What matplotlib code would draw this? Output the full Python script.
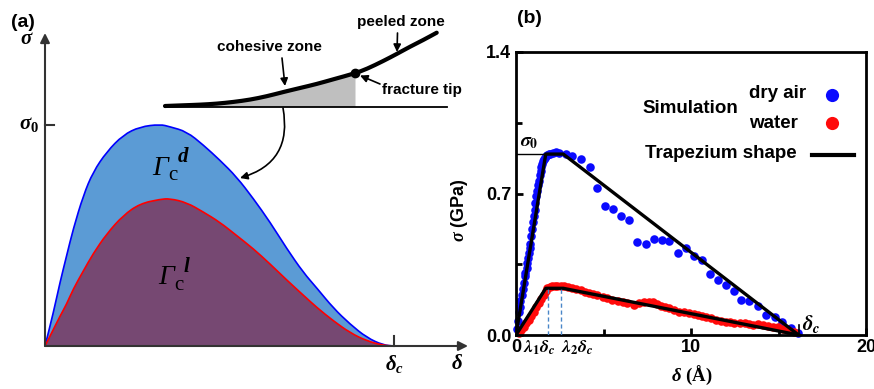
import matplotlib
matplotlib.use('Agg')
import matplotlib.pyplot as plt
from matplotlib.patches import FancyArrowPatch, PathPatch
from matplotlib.path import Path

plt.rcParams['font.family'] = 'Liberation Sans'
plt.rcParams['font.weight'] = 'bold'
plt.rcParams['mathtext.fontset'] = 'custom'
plt.rcParams['mathtext.it'] = 'Liberation Serif:italic:bold'
plt.rcParams['mathtext.rm'] = 'Liberation Serif:bold'
plt.rcParams['mathtext.bf'] = 'Liberation Serif:bold'

# ---- panel (a): schematic traction-separation curves (delta/delta_c, sigma/sigma_0)
sep = [0, 0.024, 0.043, 0.062, 0.081, 0.110, 0.138, 0.177, 0.224, 0.272, 0.330, 0.358, 0.406,
       0.454, 0.501, 0.549, 0.597, 0.645, 0.693, 0.740, 0.779, 0.826, 0.874, 0.922, 0.969, 1.0]
dry_curve = [0, 0.151, 0.288, 0.409, 0.530, 0.682, 0.788, 0.879, 0.955, 0.992, 1.003, 0.992, 0.970,
             0.909, 0.841, 0.765, 0.667, 0.560, 0.440, 0.333, 0.262, 0.172, 0.099, 0.038, 0.004, 0]
wet_curve = [0, 0.075, 0.135, 0.190, 0.258, 0.340, 0.418, 0.508, 0.591, 0.644, 0.664, 0.667, 0.649,
             0.606, 0.560, 0.500, 0.440, 0.371, 0.298, 0.230, 0.174, 0.114, 0.060, 0.023, 0.003, 0]

# peeling sketch (pixel coordinates of the inset drawing)
peel_x = [165, 183.3, 200, 216.7, 233.3, 250, 266.7, 283.3, 300, 316.7, 333.3, 355,
          366.7, 383.3, 396.7, 410, 423.3, 436.7]
peel_y = [106, 105.3, 104.7, 103.7, 102, 99.7, 96.3, 92, 88, 84, 79.3, 73.3,
          69, 61, 54, 46.7, 40, 32.7]

# ---- panel (b): simulation data
dry_x = [0.05, 0.10, 0.15, 0.20, 0.25, 0.32, 0.38, 0.44, 0.50, 0.54, 0.60, 0.63, 0.68, 0.73, 0.78,
         0.82, 0.87, 0.92, 0.97, 1.01, 1.06, 1.11, 1.16, 1.20, 1.25, 1.30, 1.35, 1.40, 1.45, 1.49,
         1.54, 1.59, 1.65, 1.72, 1.78, 1.87, 1.97, 2.10, 2.26, 2.45, 2.83, 3.21, 3.69, 4.23, 4.61,
         5.07, 5.56, 6.02, 6.48, 6.94, 7.40, 7.86, 8.32, 8.76, 9.24, 9.71, 10.15, 10.61, 11.07,
         11.53, 11.99, 12.45, 12.87, 13.33, 13.82, 14.30, 14.78, 15.22, 15.70, 16.12]
dry_y = [0.03, 0.07, 0.116, 0.14, 0.166, 0.20, 0.23, 0.257, 0.29, 0.307, 0.33, 0.357, 0.38, 0.406,
         0.43, 0.448, 0.49, 0.522, 0.56, 0.589, 0.62, 0.655, 0.69, 0.713, 0.74, 0.763, 0.79, 0.813,
         0.83, 0.846, 0.86, 0.871, 0.878, 0.887, 0.89, 0.893, 0.896, 0.90, 0.904, 0.90, 0.896,
         0.887, 0.871, 0.829, 0.725, 0.638, 0.625, 0.589, 0.569, 0.461, 0.448, 0.473, 0.469, 0.464,
         0.406, 0.431, 0.393, 0.373, 0.303, 0.274, 0.249, 0.216, 0.174, 0.166, 0.144, 0.100, 0.091,
         0.066, 0.033, 0.012]
wet_x = [0.15, 0.30, 0.44, 0.58, 0.72, 0.86, 1.00, 1.15, 1.30, 1.44, 1.58, 1.70, 1.78, 1.92, 2.07,
         2.20, 2.35, 2.55, 2.73, 2.95, 3.20, 3.45, 3.69, 3.93, 4.17, 4.40, 4.65, 4.95, 5.22, 5.50,
         5.80, 6.10, 6.37, 6.75, 7.05, 7.32, 7.60, 7.80, 8.05, 8.28, 8.50, 8.76, 9.05, 9.33, 9.60,
         9.90, 10.15, 10.38, 10.60, 10.86, 11.15, 11.43, 11.70, 12.01, 12.25, 12.48, 12.80, 13.06,
         13.30, 13.54, 13.80, 14.10, 14.40, 14.70, 14.97, 15.25, 15.55, 15.90]
wet_y = [0.008, 0.025, 0.041, 0.058, 0.075, 0.095, 0.116, 0.137, 0.158, 0.180, 0.200, 0.220, 0.232,
         0.238, 0.240, 0.243, 0.244, 0.242, 0.240, 0.236, 0.232, 0.228, 0.224, 0.214, 0.207, 0.203,
         0.199, 0.190, 0.182, 0.174, 0.166, 0.162, 0.158, 0.150, 0.158, 0.163, 0.165, 0.163, 0.152,
         0.144, 0.140, 0.133, 0.124, 0.116, 0.112, 0.108, 0.104, 0.100, 0.096, 0.091, 0.083, 0.075,
         0.071, 0.066, 0.062, 0.058, 0.058, 0.058, 0.054, 0.050, 0.052, 0.050, 0.046, 0.042, 0.038,
         0.032, 0.026, 0.015]
trap_x = [0, 1.70, 2.70, 16.15]
trap_dry = [0, 0.895, 0.895, 0]
trap_wet = [0, 0.231, 0.231, 0]
lam_x = [1.85, 2.57]


def smooth_path(xs, ys, close=False):
    # quadratic bezier through the midpoints of the read points
    pts = list(zip(xs, ys))
    verts = [pts[0], ((pts[0][0] + pts[1][0]) / 2, (pts[0][1] + pts[1][1]) / 2)]
    codes = [Path.MOVETO, Path.LINETO]
    for i in range(1, len(pts) - 1):
        mid = ((pts[i][0] + pts[i + 1][0]) / 2, (pts[i][1] + pts[i + 1][1]) / 2)
        verts += [pts[i], mid]
        codes += [Path.CURVE3, Path.CURVE3]
    verts.append(pts[-1])
    codes.append(Path.LINETO)
    if close:
        verts.append(pts[0])
        codes.append(Path.CLOSEPOLY)
    return Path(verts, codes)


fig = plt.figure(figsize=(8.74, 3.89), dpi=100)

# ================= panel (a)
axa = fig.add_axes([45 / 874, 43 / 389, 429 / 874, 318 / 389])
axa.set_xlim(0, 429 / 349)
axa.set_ylim(0, 318 / 221)
axa.axis('off')
axa.add_patch(PathPatch(smooth_path(sep, dry_curve, close=True), fc='#5B9BD5', ec='none'))
axa.add_patch(PathPatch(smooth_path(sep, wet_curve, close=True), fc='#764872', ec='none'))
axa.add_patch(PathPatch(smooth_path(sep, dry_curve), fc='none', ec='#0000FF', lw=1.2))
axa.add_patch(PathPatch(smooth_path(sep, wet_curve), fc='none', ec='#FF0000', lw=1.2))
axc = '#333333'
axa.annotate('', xy=(423 / 349, 0), xytext=(0, 0), annotation_clip=False,
             arrowprops=dict(arrowstyle='-|>', color=axc, lw=1.5, mutation_scale=14, shrinkA=0, shrinkB=0))
axa.annotate('', xy=(0, 313 / 221), xytext=(0, 0), annotation_clip=False,
             arrowprops=dict(arrowstyle='-|>', color=axc, lw=1.5, mutation_scale=14, shrinkA=0, shrinkB=0))
axa.plot([0, 0.025], [1, 1], color=axc, lw=1.5, clip_on=False)
axa.plot([1, 1], [0, 0.045], color=axc, lw=1.5, clip_on=False)
axa.text(-0.017, 1.0, r'$\sigma_0$', ha='right', va='center', fontsize=15)
axa.text(-0.052, 1.39, r'$\sigma$', ha='center', va='center', fontsize=15)
axa.text(1.0, -0.08, r'$\delta_c$', ha='center', va='center', fontsize=15)
axa.text(1.18, -0.08, r'$\delta$', ha='center', va='center', fontsize=15)

# ================= overlay for sketch and annotations (pixel space)
ov = fig.add_axes([0, 0, 1, 1])
ov.set_xlim(0, 874)
ov.set_ylim(389, 0)
ov.axis('off')
ov.patch.set_alpha(0)

ov.fill_between(peel_x[:12], peel_y[:12], 106.5, color='#BFBFBF', lw=0)
ov.plot([165, 447], [106.5, 106.5], color='black', lw=1.3)
ov.add_patch(PathPatch(smooth_path(peel_x, peel_y), fc='none', ec='black', lw=3, capstyle='round'))
ov.plot(355, 73.3, 'o', color='black', ms=6)


def arrow(p0, p1, rad=0.0):
    ov.add_patch(FancyArrowPatch(p0, p1, arrowstyle='-|>', mutation_scale=11, lw=1.2,
                                 color='black', connectionstyle=f'arc3,rad={rad}',
                                 shrinkA=0, shrinkB=0))


arrow((282, 58), (285, 86))
arrow((397.5, 33), (397, 52))
arrow((380, 84), (360, 75.5))
arrow((283, 108), (240, 178), rad=-0.45)

ov.text(269, 47, 'cohesive zone', ha='center', va='center', fontsize=11)
ov.text(401, 22, 'peeled zone', ha='center', va='center', fontsize=11)
ov.text(382, 90, 'fracture tip', ha='left', va='center', fontsize=11)

serif = 'Liberation Serif'
ov.text(152, 168, 'Γ', family=serif, style='italic', weight='normal', fontsize=20, ha='left', va='center')
ov.text(168, 175, 'c', family=serif, weight='normal', fontsize=15, ha='left', va='center')
ov.text(178, 157, 'd', family=serif, style='italic', weight='bold', fontsize=15, ha='left', va='center')
ov.text(158, 278, 'Γ', family=serif, style='italic', weight='normal', fontsize=20, ha='left', va='center')
ov.text(174, 285, 'c', family=serif, weight='normal', fontsize=15, ha='left', va='center')
ov.text(184, 267, 'l', family=serif, style='italic', weight='bold', fontsize=15, ha='left', va='center')

ov.text(11, 22, '(a)', ha='left', va='center', fontsize=14)
ov.text(517, 18, '(b)', ha='left', va='center', fontsize=14)

# ================= panel (b)
axb = fig.add_axes([516 / 874, 54 / 389, 350 / 874, 283 / 389])
axb.set_xlim(0, 20)
axb.set_ylim(0, 1.4)
axb.scatter(dry_x, dry_y, s=38, color='#0a0aff', lw=0, zorder=2, clip_on=False)
axb.scatter(wet_x, wet_y, s=38, color='#ff0a0a', lw=0, zorder=2, clip_on=False)
axb.plot(trap_x, trap_dry, color='black', lw=2.4, zorder=3)
axb.plot(trap_x, trap_wet, color='black', lw=2.4, zorder=3)
for lx in lam_x:
    axb.plot([lx, lx], [0, trap_wet[1]], color='#4a86c8', lw=1, ls=(0, (3, 2)), zorder=4)
axb.plot([0, trap_x[1]], [trap_dry[1], trap_dry[1]], color='black', lw=1, zorder=3)
axb.plot([trap_x[-1], trap_x[-1]], [0.01, 0.05], color='black', lw=1.2, zorder=3)

axb.text(0.25, 0.95, r'$\sigma_0$', math_fontfamily='stix', fontsize=14, ha='left', va='center')
axb.text(16.35, 0.055, r'$\delta_c$', math_fontfamily='stix', fontsize=15, ha='left', va='center')
axb.text(1.35, -0.065, r'$\lambda_1\delta_c$', math_fontfamily='stix', fontsize=13, ha='center', va='center')
axb.text(3.5, -0.065, r'$\lambda_2\delta_c$', math_fontfamily='stix', fontsize=13, ha='center', va='center')

for sp in axb.spines.values():
    sp.set_linewidth(2)
axb.set_xticks([0, 10, 20])
axb.set_xticks([5, 15], minor=True)
axb.set_yticks([0, 0.7, 1.4])
axb.set_yticks([0.35, 1.05], minor=True)
axb.set_yticklabels(['0.0', '0.7', '1.4'])
axb.tick_params(which='both', direction='in', width=2, labelsize=13)
axb.tick_params(which='major', length=5)
axb.tick_params(which='minor', length=4)
axb.tick_params(axis='x', pad=3)

axb.set_xlabel(r'$\delta\ (\mathrm{\AA})$', fontsize=13.5, fontweight='bold')
axb.xaxis.set_label_coords(0.503, -0.103)
axb.set_ylabel(r'$\sigma$ (GPa)', fontsize=13, fontweight='bold')
axb.yaxis.set_label_coords(-0.13, 0.44)

# legend drawn by hand to keep the grouped layout
tr = axb.transAxes
axb.text(0.36, 0.802, 'Simulation', transform=tr, fontsize=13.5, ha='left', va='center')
axb.text(0.666, 0.852, 'dry air', transform=tr, fontsize=13.5, ha='left', va='center')
axb.text(0.666, 0.749, 'water', transform=tr, fontsize=13.5, ha='left', va='center')
axb.plot([0.903], [0.848], 'o', color='#0a0aff', ms=9.5, mew=0, transform=tr)
axb.plot([0.903], [0.749], 'o', color='#ff0a0a', ms=9.5, mew=0, transform=tr)
axb.text(0.369, 0.643, 'Trapezium shape', transform=tr, fontsize=13.5, ha='left', va='center')
axb.plot([0.846, 0.966], [0.636, 0.636], color='black', lw=3, transform=tr)

fig.savefig('out.png', dpi=100)
